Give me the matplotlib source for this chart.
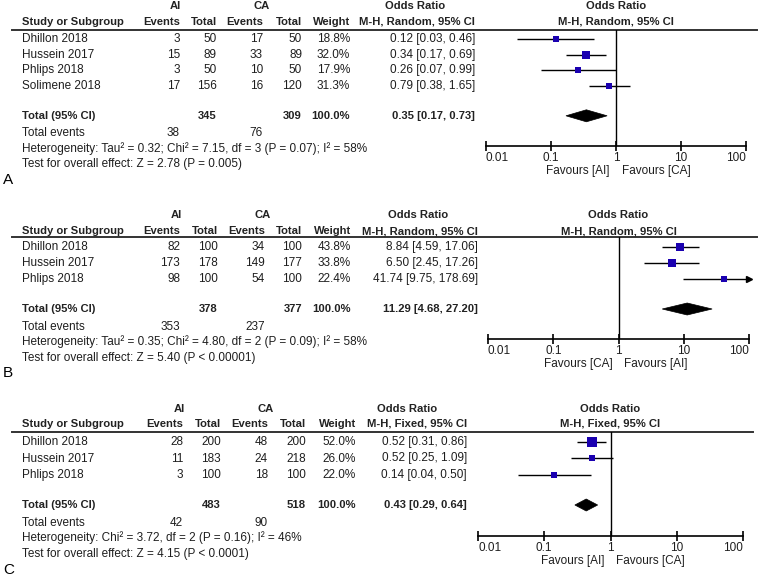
import numpy as np
import matplotlib
matplotlib.use("Agg")
import matplotlib.pyplot as plt
from matplotlib.patches import Polygon

plt.rcParams["font.family"] = ["Liberation Sans", "DejaVu Sans"]
plt.rcParams["font.size"] = 8.5

# ---- data ----
studies_a = ["Dhillon 2018", "Hussein 2017", "Phlips 2018", "Solimene 2018"]
ai_events_a = [3, 15, 3, 17]
ai_total_a = [50, 89, 50, 156]
ca_events_a = [17, 33, 10, 16]
ca_total_a = [50, 89, 50, 120]
weight_a = [18.8, 32.0, 17.9, 31.3]
or_a = [0.12, 0.34, 0.26, 0.79]
lo_a = [0.03, 0.17, 0.07, 0.38]
hi_a = [0.46, 0.69, 0.99, 1.65]
pooled_a = [0.35, 0.17, 0.73]
sums_a = [345, 309]
tot_events_a = [38, 76]
het_a = "Heterogeneity: Tau\u00b2 = 0.32; Chi\u00b2 = 7.15, df = 3 (P = 0.07); I\u00b2 = 58%"
test_a = "Test for overall effect: Z = 2.78 (P = 0.005)"
method_a = "M-H, Random, 95% CI"
favours_a = ["Favours [AI]", "Favours [CA]"]

studies_b = ["Dhillon 2018", "Hussein 2017", "Phlips 2018"]
ai_events_b = [82, 173, 98]
ai_total_b = [100, 178, 100]
ca_events_b = [34, 149, 54]
ca_total_b = [100, 177, 100]
weight_b = [43.8, 33.8, 22.4]
or_b = [8.84, 6.50, 41.74]
lo_b = [4.59, 2.45, 9.75]
hi_b = [17.06, 17.26, 178.69]
pooled_b = [11.29, 4.68, 27.20]
sums_b = [378, 377]
tot_events_b = [353, 237]
het_b = "Heterogeneity: Tau\u00b2 = 0.35; Chi\u00b2 = 4.80, df = 2 (P = 0.09); I\u00b2 = 58%"
test_b = "Test for overall effect: Z = 5.40 (P < 0.00001)"
method_b = "M-H, Random, 95% CI"
favours_b = ["Favours [CA]", "Favours [AI]"]

studies_c = ["Dhillon 2018", "Hussein 2017", "Phlips 2018"]
ai_events_c = [28, 11, 3]
ai_total_c = [200, 183, 100]
ca_events_c = [48, 24, 18]
ca_total_c = [200, 218, 100]
weight_c = [52.0, 26.0, 22.0]
or_c = [0.52, 0.52, 0.14]
lo_c = [0.31, 0.25, 0.04]
hi_c = [0.86, 1.09, 0.50]
pooled_c = [0.43, 0.29, 0.64]
sums_c = [483, 518]
tot_events_c = [42, 90]
het_c = "Heterogeneity: Chi\u00b2 = 3.72, df = 2 (P = 0.16); I\u00b2 = 46%"
test_c = "Test for overall effect: Z = 4.15 (P < 0.0001)"
method_c = "M-H, Fixed, 95% CI"
favours_c = ["Favours [AI]", "Favours [CA]"]

tick_vals = [0.01, 0.1, 1, 10, 100]
tick_labels = ["0.01", "0.1", "1", "10", "100"]

# ---- figure in pixel units ----
W, H = 761, 577
fig = plt.figure(figsize=(W / 100, H / 100), dpi=100, facecolor="white")
tab = fig.add_axes([0, 0, 1, 1])
tab.set_xlim(0, W)
tab.set_ylim(H, 0)
tab.axis("off")

TXT = "#1e1e1e"
BLUE = "#1a00b0"
BOLD = dict(weight="bold", fontsize=8.1, color="#222222")


def draw_panel(letter, lay, studies, aie, ait, cae, cat, wt, orv, lo, hi,
               pooled, sums, tev, het, test, method, favours):
    ce, ct, de, dt, cw, cor, p0, p1 = lay["cols"]
    y_top, y_hdr, y_line = lay["hdr"]
    rows = [lay["first"] + i * lay["pitch"] for i in range(len(studies))]
    y_tot = rows[-1] + 30
    y_axis = lay["axis"]

    # headers
    tab.text((ce + ct) / 2 - 23, y_top, "AI", ha="center", va="center", **BOLD)
    tab.text((de + dt) / 2 - 21, y_top, "CA", ha="center", va="center", **BOLD)
    tab.text(cor - 60, y_top, "Odds Ratio", ha="center", va="center", **BOLD)
    tab.text((p0 + p1) / 2, y_top, "Odds Ratio", ha="center", va="center", **BOLD)
    hdr = [(22, "Study or Subgroup", "left"), (ce, "Events", "right"), (ct, "Total", "right"),
           (de, "Events", "right"), (dt, "Total", "right"), (cw, "Weight", "right"),
           (cor, method, "right"), ((p0 + p1) / 2, method, "center")]
    for x, s, ha in hdr:
        tab.text(x, y_hdr, s, ha=ha, va="center", **BOLD)
    tab.plot([12, lay["line_end"]], [y_line, y_line], color="#333333", lw=1.4)

    # study rows
    for i, y in enumerate(rows):
        tab.text(22, y, studies[i], ha="left", va="center", color=TXT)
        tab.text(ce, y, str(aie[i]), ha="right", va="center", color=TXT)
        tab.text(ct, y, str(ait[i]), ha="right", va="center", color=TXT)
        tab.text(de, y, str(cae[i]), ha="right", va="center", color=TXT)
        tab.text(dt, y, str(cat[i]), ha="right", va="center", color=TXT)
        tab.text(cw, y, f"{wt[i]:.1f}%", ha="right", va="center", color=TXT)
        tab.text(cor, y, f"{orv[i]:.2f} [{lo[i]:.2f}, {hi[i]:.2f}]", ha="right", va="center", color=TXT)

    # totals
    tab.text(22, y_tot, "Total (95% CI)", ha="left", va="center", **BOLD)
    tab.text(ct, y_tot, str(sums[0]), ha="right", va="center", **BOLD)
    tab.text(dt, y_tot, str(sums[1]), ha="right", va="center", **BOLD)
    tab.text(cw, y_tot, "100.0%", ha="right", va="center", **BOLD)
    tab.text(cor, y_tot, f"{pooled[0]:.2f} [{pooled[1]:.2f}, {pooled[2]:.2f}]",
             ha="right", va="center", **BOLD)
    tab.text(22, y_tot + 17.5, "Total events", ha="left", va="center", color=TXT)
    tab.text(ce, y_tot + 17.5, str(tev[0]), ha="right", va="center", color=TXT)
    tab.text(de, y_tot + 17.5, str(tev[1]), ha="right", va="center", color=TXT)
    tab.text(22, y_tot + 33, het, ha="left", va="center", color=TXT)
    tab.text(22, y_tot + 48.5, test, ha="left", va="center", color=TXT)
    tab.text(3, lay["label"], letter, ha="left", va="center", fontsize=11, color="black")

    # forest plot axes
    ax = fig.add_axes([p0 / W, 1 - y_axis / H, (p1 - p0) / W, (y_axis - y_line) / H])
    ax.set_xscale("log")
    ax.set_xlim(0.01, 100)
    ax.set_ylim(y_axis, y_line)
    ax.patch.set_alpha(0)
    for s in ["top", "left", "right"]:
        ax.spines[s].set_visible(False)
    ax.spines["bottom"].set_linewidth(1.2)
    ax.set_yticks([])
    ax.set_xticks(tick_vals)
    ax.set_xticklabels(tick_labels)
    ax.minorticks_off()
    ax.tick_params(axis="x", direction="inout", length=7, width=1.2, pad=1, labelsize=8.5,
                   labelcolor=TXT)
    labels = ax.get_xticklabels()
    labels[0].set_ha("left")
    labels[-1].set_ha("right")
    ax.axvline(1, color="black", lw=1)

    for i, y in enumerate(rows):
        h = min(hi[i], 100)
        ax.plot([lo[i], h], [y, y], color="black", lw=1, solid_capstyle="butt", clip_on=False)
        if hi[i] > 100:
            ax.plot([100], [y], marker=">", color="black", markersize=5, clip_on=False)
        side = lay["k"] * np.sqrt(wt[i])
        ax.plot([orv[i]], [y], marker="s", color=BLUE, markersize=side * 0.72,
                markeredgewidth=0, zorder=3)

    est, l, u = pooled
    ax.add_patch(Polygon([(l, y_tot), (est, y_tot - 6), (u, y_tot), (est, y_tot + 6)],
                         closed=True, facecolor="black", edgecolor="black", lw=0.5))

    ax.annotate(favours[0], xy=(1, y_axis), xytext=(-6, -25), textcoords="offset pixels",
                ha="right", va="center", color=TXT, annotation_clip=False)
    ax.annotate(favours[1], xy=(1, y_axis), xytext=(6, -25), textcoords="offset pixels",
                ha="left", va="center", color=TXT, annotation_clip=False)


lay_a = dict(cols=[180, 217, 263, 302, 350, 475, 486, 746], hdr=[6, 22, 30],
             first=39, pitch=15.6, axis=146, label=180, line_end=757, k=1.25)
lay_b = dict(cols=[180, 218, 265, 302, 351, 478, 488, 749], hdr=[215, 231, 237],
             first=247, pitch=16, axis=339, label=373, line_end=757, k=1.25)
lay_c = dict(cols=[183, 221, 268, 306, 356, 467, 478, 743], hdr=[409, 424, 432],
             first=442, pitch=16.5, axis=536, label=570, line_end=753, k=1.35)

draw_panel("A", lay_a, studies_a, ai_events_a, ai_total_a, ca_events_a, ca_total_a,
           weight_a, or_a, lo_a, hi_a, pooled_a, sums_a, tot_events_a, het_a, test_a,
           method_a, favours_a)
draw_panel("B", lay_b, studies_b, ai_events_b, ai_total_b, ca_events_b, ca_total_b,
           weight_b, or_b, lo_b, hi_b, pooled_b, sums_b, tot_events_b, het_b, test_b,
           method_b, favours_b)
draw_panel("C", lay_c, studies_c, ai_events_c, ai_total_c, ca_events_c, ca_total_c,
           weight_c, or_c, lo_c, hi_c, pooled_c, sums_c, tot_events_c, het_c, test_c,
           method_c, favours_c)

fig.savefig("out.png", dpi=100, facecolor="white")
